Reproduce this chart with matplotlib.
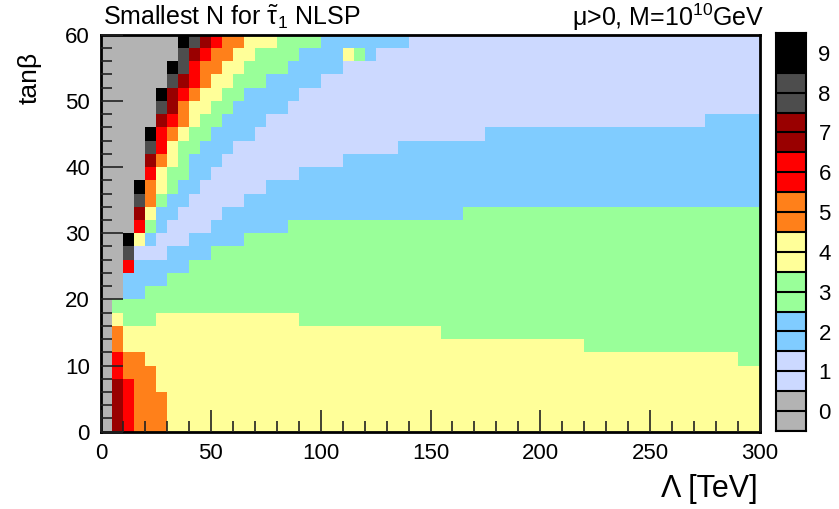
import numpy as np
import matplotlib
matplotlib.use("Agg")
import matplotlib.pyplot as plt
from matplotlib.colors import ListedColormap, BoundaryNorm

plt.rcParams['font.family'] = ['Liberation Sans', 'DejaVu Sans']
plt.rcParams['mathtext.fontset'] = 'custom'
plt.rcParams['mathtext.rm'] = 'Liberation Sans'
plt.rcParams['mathtext.it'] = 'Liberation Sans'
plt.rcParams['mathtext.bf'] = 'Liberation Sans:bold'

# ---- data ----
lambda_edges = np.arange(0, 301, 5)      # Lambda [TeV] bin edges
tanb_edges = np.arange(0, 61, 2)         # tan(beta) bin edges
levels = list(range(10))                 # N values 0..9
level_colors = ['#b3b3b3', '#ccd9ff', '#80ccff', '#99ff99', '#ffff99',
                '#ff801a', '#ff0000', '#990000', '#4d4d4d', '#000000']

# smallest N per cell, run-length encoded (value, number of Lambda bins), rows from tanb=0 upward
cell_runs = [
    [(0, 1), (7, 1), (6, 1), (5, 3), (4, 54)],                                   # 0-2
    [(0, 1), (7, 1), (6, 1), (5, 3), (4, 54)],                                   # 2-4
    [(0, 1), (7, 1), (6, 1), (5, 3), (4, 54)],                                   # 4-6
    [(0, 1), (7, 1), (6, 1), (5, 2), (4, 55)],                                   # 6-8
    [(0, 1), (6, 1), (5, 3), (4, 55)],                                           # 8-10
    [(0, 1), (6, 1), (5, 2), (4, 54), (3, 2)],                                   # 10-12
    [(0, 1), (5, 1), (4, 42), (3, 16)],                                          # 12-14
    [(0, 1), (5, 1), (4, 29), (3, 29)],                                          # 14-16
    [(0, 1), (4, 1), (3, 3), (4, 13), (3, 42)],                                  # 16-18
    [(0, 1), (3, 59)],                                                           # 18-20
    [(0, 2), (2, 2), (3, 56)],                                                   # 20-22
    [(0, 2), (2, 4), (3, 54)],                                                   # 22-24
    [(0, 2), (6, 1), (2, 5), (3, 52)],                                           # 24-26
    [(0, 2), (8, 1), (1, 3), (2, 4), (3, 50)],                                   # 26-28
    [(0, 2), (9, 1), (4, 1), (2, 1), (1, 3), (2, 5), (3, 47)],                   # 28-30
    [(0, 3), (6, 1), (3, 1), (2, 1), (1, 4), (2, 7), (3, 43)],                   # 30-32
    [(0, 3), (7, 1), (4, 1), (2, 2), (1, 4), (2, 22), (3, 27)],                  # 32-34
    [(0, 3), (8, 1), (5, 1), (3, 1), (2, 2), (1, 5), (2, 47)],                   # 34-36
    [(0, 3), (9, 1), (5, 1), (4, 1), (3, 1), (2, 2), (1, 6), (2, 45)],           # 36-38
    [(0, 4), (6, 1), (4, 1), (3, 2), (2, 2), (1, 8), (2, 42)],                   # 38-40
    [(0, 4), (7, 1), (5, 1), (4, 1), (3, 1), (2, 3), (1, 11), (2, 38)],          # 40-42
    [(0, 4), (8, 1), (6, 1), (4, 1), (3, 2), (2, 3), (1, 15), (2, 33)],          # 42-44
    [(0, 4), (9, 1), (6, 1), (5, 1), (4, 1), (3, 2), (2, 4), (1, 21), (2, 25)],  # 44-46
    [(0, 5), (7, 1), (6, 1), (5, 1), (4, 1), (3, 2), (2, 4), (1, 40), (2, 5)],   # 46-48
    [(0, 5), (8, 1), (7, 1), (5, 1), (4, 2), (3, 2), (2, 5), (1, 43)],           # 48-50
    [(0, 5), (9, 1), (7, 1), (6, 1), (5, 1), (4, 2), (3, 2), (2, 5), (1, 42)],   # 50-52
    [(0, 6), (8, 1), (7, 1), (6, 1), (5, 1), (4, 2), (3, 3), (2, 5), (1, 40)],   # 52-54
    [(0, 6), (9, 1), (8, 1), (6, 1), (5, 2), (4, 2), (3, 4), (2, 5), (1, 38)],   # 54-56
    [(0, 7), (8, 1), (7, 1), (6, 1), (5, 2), (4, 2), (3, 4), (2, 4), (4, 1), (3, 1), (2, 1), (1, 35)],  # 56-58
    [(0, 7), (9, 1), (8, 1), (7, 1), (6, 1), (5, 2), (4, 3), (3, 4), (2, 8), (1, 32)],                  # 58-60
]

grid = np.array([[v for v, n in row for _ in range(n)] for row in cell_runs], dtype=float)

# ---- colormap: two bands per integer level (ROOT-style contour palette) ----
band_colors = [c for c in level_colors for _ in range(2)]
cmap = ListedColormap(band_colors)
bounds = np.arange(-0.5, 9.51, 0.5)
norm = BoundaryNorm(bounds, cmap.N)

W, H = 839, 509
fig = plt.figure(figsize=(W / 100, H / 100), dpi=100)

ax = fig.add_axes([101 / W, 1 - 431.7 / H, (760 - 101) / W, (431.7 - 34.7) / H])
ax.pcolormesh(lambda_edges, tanb_edges, grid, cmap=cmap, norm=norm, shading='flat')
ax.set_xlim(0, 300)
ax.set_ylim(0, 60)

ax.set_xticks(np.arange(0, 301, 50))
ax.set_xticks(np.arange(0, 301, 10), minor=True)
ax.set_yticks(np.arange(0, 61, 10))
ax.set_yticks(np.arange(0, 61, 2), minor=True)
ax.tick_params(which='both', direction='in', top=False, right=False, labelsize=16, width=1.2, color='#222222')
ax.tick_params(which='major', length=16)
ax.tick_params(which='minor', length=8)
ax.tick_params(axis='x', pad=8)
ax.tick_params(axis='y', pad=8)
for s in ax.spines.values():
    s.set_linewidth(2)
ax.set_axisbelow(False)

# ---- colorbar ----
cax = fig.add_axes([776 / W, 1 - 431 / H, 30 / W, (431 - 33) / H])
cax.pcolormesh([0, 1], bounds, (bounds[:-1] + 0.25).reshape(-1, 1), cmap=cmap, norm=norm, shading='flat')
for b in bounds:
    cax.axhline(b, color='black', lw=1.5)
cax.set_xlim(0, 1)
cax.set_ylim(-0.5, 9.5)
cax.set_xticks([])
cax.yaxis.tick_right()
cax.set_yticks(levels)
cax.tick_params(axis='y', length=0, labelsize=16, pad=9)
for s in cax.spines.values():
    s.set_linewidth(1.5)

# ---- texts ----
fig.text(103 / W, 1 - 17 / H, r'Smallest N for $\tilde{\tau}_1$ NLSP', fontsize=18, ha='left', va='center')
fig.text(764 / W, 1 - 17 / H, r'μ>0, M=10$^{10}$GeV', fontsize=18, ha='right', va='center')
fig.text(758 / W, 1 - 489 / H, 'Λ [TeV]', fontsize=22, ha='right', va='center')
fig.text(30 / W, 1 - 52 / H, 'tanβ', fontsize=19, ha='center', va='top', rotation=90)

fig.savefig('out.png', dpi=100)
